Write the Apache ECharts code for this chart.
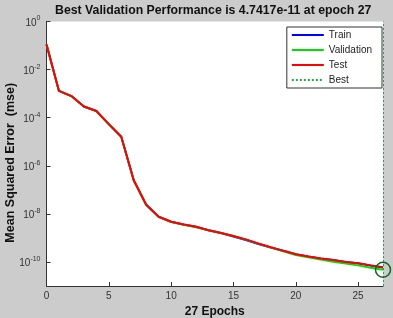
<!DOCTYPE html>
<html>
<head>
<meta charset="utf-8">
<script src="https://cdn.jsdelivr.net/npm/echarts/dist/echarts.min.js"></script>
<style>
  html, body { margin: 0; padding: 0; background: #cccccc; }
  #main { width: 393px; height: 318px; }
</style>
</head>
<body>
<div id="main"></div>
<script>
// performance per epoch
var epochs = [0, 1, 2, 3, 4, 5, 6, 7, 8, 9, 10, 11, 12, 13, 14, 15, 16, 17, 18, 19, 20, 21, 22, 23, 24, 25, 26, 27];
var trainPerf = [0.11, 1.3e-3, 7.9e-4, 2.9e-4, 1.9e-4, 5.4e-5, 1.6e-5, 2.5e-7, 2.4e-8, 7.6e-9, 4.7e-9, 3.6e-9, 2.9e-9, 2.1e-9, 1.6e-9, 1.15e-9, 8.2e-10, 5.6e-10, 4.0e-10, 2.9e-10, 2.1e-10, 1.7e-10, 1.4e-10, 1.2e-10, 1.0e-10, 8.8e-11, 7.1e-11, 5.9e-11];
var valPerf = [0.11, 1.3e-3, 7.8e-4, 2.9e-4, 1.9e-4, 5.3e-5, 1.6e-5, 2.5e-7, 2.4e-8, 7.5e-9, 4.6e-9, 3.5e-9, 2.8e-9, 2.1e-9, 1.6e-9, 1.2e-9, 8.5e-10, 5.8e-10, 4.0e-10, 2.8e-10, 1.95e-10, 1.55e-10, 1.25e-10, 1.02e-10, 8.6e-11, 7.2e-11, 5.8e-11, 4.7417e-11];
var testPerf = [0.11, 1.3e-3, 7.9e-4, 2.9e-4, 1.9e-4, 5.4e-5, 1.6e-5, 2.5e-7, 2.4e-8, 7.6e-9, 4.7e-9, 3.6e-9, 2.9e-9, 2.1e-9, 1.6e-9, 1.2e-9, 8.7e-10, 5.9e-10, 4.1e-10, 2.9e-10, 2.1e-10, 1.7e-10, 1.4e-10, 1.2e-10, 1.0e-10, 8.9e-11, 7.2e-11, 6.0e-11];
var bestEpoch = 27;
var bestPerf = 4.7417e-11;
var xTicks = [0, 5, 10, 15, 20, 25];
var yTicks = [1e0, 1e-2, 1e-4, 1e-6, 1e-8, 1e-10];

function pairs(vals) {
    return epochs.map(function (e, i) { return [e, vals[i]]; });
}

var chart = echarts.init(document.getElementById('main'));
var labelFont = 'Arial, "Liberation Sans", sans-serif';
var noSymbol = { color: 'rgba(0,0,0,0)', borderColor: 'rgba(0,0,0,0)', borderWidth: 0 };

chart.setOption({
    backgroundColor: '#cccccc',
    animation: false,
    title: {
        text: 'Best Validation Performance is 4.7417e-11 at epoch 27',
        left: 50,
        top: 0,
        textStyle: { fontFamily: labelFont, fontSize: 12.3, fontWeight: 'bold', color: '#111' }
    },
    legend: {
        orient: 'vertical',
        right: 11,
        top: 27,
        padding: [2, 10, 2, 4],
        backgroundColor: '#fff',
        borderColor: '#333',
        borderWidth: 1,
        borderRadius: 0,
        itemWidth: 32,
        itemHeight: 12,
        itemGap: 3,
        itemStyle: noSymbol,
        textStyle: { fontFamily: labelFont, fontSize: 10, color: '#222', lineHeight: 12 },
        data: ['Train', 'Validation', 'Test', 'Best']
    },
    grid: {
        left: 46.5, right: 10, top: 21.5, bottom: 32,
        outerBoundsMode: 'none',
        containLabel: false,
        show: true, backgroundColor: '#fff', borderWidth: 0
    },
    xAxis: {
        type: 'value',
        min: 0,
        max: 27,
        name: '27 Epochs',
        nameLocation: 'middle',
        nameGap: 19,
        nameTextStyle: { fontFamily: labelFont, fontSize: 12, fontWeight: 'bold', color: '#111' },
        axisLine: { lineStyle: { color: '#333', width: 1 } },
        axisTick: { inside: true, length: 4, customValues: xTicks, lineStyle: { color: '#333' } },
        axisLabel: { customValues: xTicks, margin: 5, fontFamily: labelFont, fontSize: 10, color: '#333' },
        splitLine: { show: false }
    },
    yAxis: {
        type: 'log',
        logBase: 10,
        min: 1e-11,
        max: 1,
        name: 'Mean Squared Error  (mse)',
        nameLocation: 'middle',
        nameGap: 29,
        nameMoveOverlap: false,
        nameTextStyle: { fontFamily: labelFont, fontSize: 12.5, fontWeight: 'bold', color: '#111', padding: [0, 18, 0, 0] },
        axisLine: { show: true, lineStyle: { color: '#333', width: 1 } },
        axisTick: { inside: true, length: 4, customValues: yTicks, lineStyle: { color: '#333' } },
        axisLabel: {
            customValues: yTicks,
            margin: 6,
            formatter: function (v) {
                return '{b|10}{s|' + Math.round(Math.log10(v)) + '}';
            },
            rich: {
                b: { fontFamily: labelFont, fontSize: 10, color: '#333', verticalAlign: 'bottom' },
                s: { fontFamily: labelFont, fontSize: 7, color: '#333', verticalAlign: 'top', padding: [0, 0, 6, 0] }
            }
        },
        splitLine: { show: false }
    },
    series: [
        {
            name: 'Train', type: 'line', symbol: 'none',
            data: pairs(trainPerf),
            lineStyle: { color: '#0000ff', width: 2 }, itemStyle: { color: '#0000ff' }
        },
        {
            name: 'Validation', type: 'line', symbol: 'none',
            data: pairs(valPerf),
            lineStyle: { color: '#00e000', width: 2 }, itemStyle: { color: '#00e000' }
        },
        {
            name: 'Test', type: 'line', symbol: 'none',
            data: pairs(testPerf),
            lineStyle: { color: '#ff0000', width: 2 }, itemStyle: { color: '#ff0000' }
        },
        {
            name: 'Best', type: 'line', symbol: 'none',
            data: [],
            lineStyle: { color: '#22aa44', width: 1, type: [2, 2] }, itemStyle: { color: '#22aa44' },
            markLine: {
                silent: true,
                symbol: 'none',
                label: { show: false },
                lineStyle: { color: '#339966', width: 1, type: [2, 2] },
                data: [{ yAxis: bestPerf }, { xAxis: bestEpoch }]
            },
            markPoint: {
                silent: true,
                symbol: 'circle',
                symbolSize: 15,
                label: { show: false },
                itemStyle: { color: 'rgba(0,0,0,0)', borderColor: '#116622', borderWidth: 1.5 },
                data: [{ coord: [bestEpoch, bestPerf] }]
            }
        }
    ]
});
</script>
</body>
</html>
